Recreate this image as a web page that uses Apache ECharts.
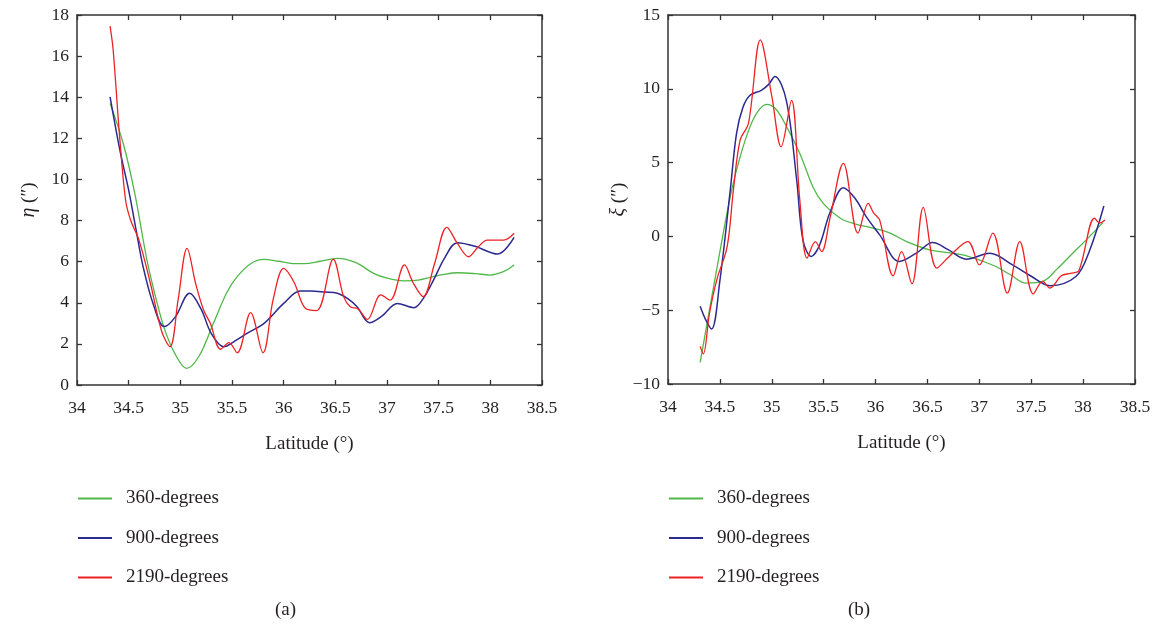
<!DOCTYPE html>
<html>
<head>
<meta charset="utf-8">
<script src="https://cdn.jsdelivr.net/npm/echarts@6/dist/echarts.min.js"></script>
<style>
html,body{margin:0;padding:0;background:#fff;}
#c{width:1157px;height:626px;}
</style>
</head>
<body>
<div id="c"></div>
<script>
// ---------- Data: panel (a) η ----------
const a360Lat = [34.32, 34.45, 34.56, 34.68, 34.78, 34.85, 34.95, 35.06, 35.18, 35.32, 35.45, 35.55, 35.68, 35.81, 35.95, 36.07, 36.2, 36.35, 36.52, 36.7, 36.87, 37.0, 37.16, 37.3, 37.42, 37.55, 37.68, 37.85, 38.0, 38.12, 38.23];
const a360Val = [13.7, 11.7, 9.3, 6.0, 3.9, 2.67, 1.5, 0.81, 1.4, 3.0, 4.5, 5.27, 5.9, 6.11, 6.02, 5.92, 5.9, 6.02, 6.16, 5.95, 5.43, 5.2, 5.07, 5.1, 5.24, 5.38, 5.46, 5.42, 5.35, 5.5, 5.84];

const a900Lat = [34.32, 34.42, 34.5, 34.57, 34.64, 34.74, 34.845, 34.95, 35.09, 35.2, 35.3, 35.42, 35.53, 35.645, 35.81, 36.0, 36.16, 36.26, 36.4, 36.52, 36.62, 36.71, 36.83, 36.95, 37.1, 37.26, 37.35, 37.45, 37.56, 37.68, 37.85, 38.07, 38.23];
const a900Val = [14.02, 11.3, 9.48, 7.6, 5.75, 3.9, 2.84, 3.3, 4.46, 3.7, 2.5, 1.86, 2.15, 2.51, 3.0, 3.97, 4.57, 4.57, 4.52, 4.46, 4.2, 3.81, 3.03, 3.35, 3.97, 3.76, 4.2, 5.1, 6.2, 6.92, 6.75, 6.37, 7.18];

const a2190Lat = [34.32, 34.35, 34.41, 34.47, 34.52, 34.6, 34.71, 34.82, 34.9, 34.98, 35.065, 35.15, 35.225, 35.29, 35.39, 35.47, 35.55, 35.68, 35.8, 35.9, 36.0, 36.1, 36.21, 36.32, 36.48, 36.58, 36.645, 36.72, 36.81, 36.94, 37.03, 37.17, 37.25, 37.35, 37.46, 37.58, 37.68, 37.79, 37.88, 37.97, 38.13, 38.23];
const a2190Val = [17.46, 16.3, 12.24, 9.0, 8.0, 7.05, 4.95, 2.6, 1.86, 4.2, 6.65, 4.9, 3.65, 3.0, 1.74, 2.06, 1.57, 3.52, 1.57, 4.2, 5.67, 5.0, 3.73, 3.62, 6.11, 4.3, 3.81, 3.7, 3.19, 4.38, 4.13, 5.84, 5.0, 4.3, 5.9, 7.67, 6.9, 6.24, 6.7, 7.05, 7.05, 7.38];

// ---------- Data: panel (b) ξ ----------
const b360Lat = [34.31, 34.45, 34.6, 34.695, 34.79, 34.87, 34.95, 35.03, 35.11, 35.27, 35.4, 35.5, 35.66, 35.8, 35.98, 36.14, 36.3, 36.52, 36.7, 36.84, 37.0, 37.16, 37.3, 37.45, 37.61, 37.75, 37.9, 38.05, 38.19];
const b360Val = [-8.53, -3.0, 2.69, 5.39, 7.42, 8.5, 8.95, 8.7, 7.87, 5.62, 3.3, 2.2, 1.23, 0.85, 0.55, 0.22, -0.35, -0.91, -1.1, -1.25, -1.6, -2.04, -2.6, -3.16, -3.05, -2.2, -1.14, -0.1, 0.93];

const b900Lat = [34.31, 34.36, 34.42, 34.5, 34.6, 34.66, 34.72, 34.79, 34.9, 34.97, 35.03, 35.14, 35.24, 35.3, 35.38, 35.46, 35.56, 35.69, 35.8, 35.91, 36.04, 36.23, 36.4, 36.55, 36.7, 36.875, 37.1, 37.32, 37.5, 37.68, 37.93, 38.06, 38.2];
const b900Val = [-4.74, -5.6, -6.27, -3.0, 3.14, 6.97, 8.7, 9.56, 9.9, 10.3, 10.84, 9.22, 3.82, -0.24, -1.36, -0.6, 1.6, 3.3, 2.6, 1.34, 0.1, -1.7, -1.1, -0.42, -0.9, -1.54, -1.14, -1.93, -2.7, -3.34, -2.72, -1.0, 2.06];

const b2190Lat = [34.31, 34.34, 34.4, 34.47, 34.57, 34.63, 34.695, 34.775, 34.89, 35.0, 35.09, 35.19, 35.27, 35.34, 35.42, 35.48, 35.56, 35.69, 35.83, 35.93, 35.98, 36.04, 36.17, 36.25, 36.35, 36.46, 36.59, 36.71, 36.89, 37.0, 37.13, 37.27, 37.39, 37.52, 37.61, 37.68, 37.79, 37.88, 37.96, 38.11, 38.16, 38.21];
const b2190Val = [-7.45, -7.96, -5.2, -2.94, -0.69, 3.14, 6.52, 7.65, 13.32, 9.5, 6.07, 9.22, 2.47, -1.47, -0.35, -1.03, 1.2, 4.95, 0.22, 2.24, 1.6, 1.1, -2.67, -1.03, -3.21, 1.97, -2.15, -1.36, -0.35, -1.93, 0.22, -3.84, -0.35, -3.89, -3.05, -3.5, -2.67, -2.5, -2.31, 1.23, 0.9, 1.11];

const seriesNames = ['360-degrees', '900-degrees', '2190-degrees'];
const colors = ['#4fb848', '#2b2a8e', '#ee2224'];

function pairs(xs, ys) { return xs.map((x, i) => [x, ys[i]]); }

const FONT = "'Liberation Serif', 'DejaVu Serif', serif";
const TXT = '#231f20';
const fmt = v => String(v).replace('-', '\u2212');

function mainXAxis(gridIndex) {
  return {
    type: 'value', gridIndex, min: 34, max: 38.5, interval: 0.5,
    name: 'Latitude (°)', nameLocation: 'middle', nameGap: 50,
    nameTextStyle: { fontFamily: FONT, fontSize: 19, color: TXT },
    axisLine: { show: true, onZero: false, lineStyle: { color: '#333', width: 1.5 } },
    axisTick: { show: true, inside: true, length: 5, lineStyle: { color: '#333', width: 1.3 } },
    axisLabel: { fontFamily: FONT, fontSize: 17.5, color: TXT, margin: 14, formatter: fmt },
    splitLine: { show: false }
  };
}
function topXAxis(gridIndex) {
  return {
    type: 'value', gridIndex, position: 'top', min: 34, max: 38.5, interval: 0.5,
    axisLine: { show: true, onZero: false, lineStyle: { color: '#333', width: 1.5 } },
    axisTick: { show: true, inside: true, length: 5, lineStyle: { color: '#333', width: 1.3 } },
    axisLabel: { show: false }, splitLine: { show: false }
  };
}
function leftYAxis(gridIndex, min, max, interval, nameRich) {
  return {
    type: 'value', gridIndex, min, max, interval,
    name: nameRich, nameLocation: 'middle', nameGap: 38, nameRotate: 90,
    nameTextStyle: { fontFamily: FONT, fontSize: 19, color: TXT,
      rich: { i: { fontFamily: FONT, fontStyle: 'italic', fontSize: 20, color: TXT } } },
    axisLine: { show: true, onZero: false, lineStyle: { color: '#333', width: 1.5 } },
    axisTick: { show: true, inside: true, length: 5, lineStyle: { color: '#333', width: 1.3 } },
    axisLabel: { fontFamily: FONT, fontSize: 17.5, color: TXT, margin: 8, formatter: fmt },
    splitLine: { show: false }
  };
}
function rightYAxis(gridIndex, min, max, interval) {
  return {
    type: 'value', gridIndex, position: 'right', min, max, interval,
    axisLine: { show: true, onZero: false, lineStyle: { color: '#333', width: 1.5 } },
    axisTick: { show: true, inside: true, length: 5, lineStyle: { color: '#333', width: 1.3 } },
    axisLabel: { show: false }, splitLine: { show: false }
  };
}

function lineSeries(name, xi, yi, data, color) {
  return {
    name, type: 'line', xAxisIndex: xi, yAxisIndex: yi, data,
    smooth: 0.35, showSymbol: false, symbol: 'none',
    lineStyle: { color, width: name === '900-degrees' ? 1.5 : 1.3 },
    itemStyle: { color },
    animation: false
  };
}

function legendAt(left) {
  return {
    orient: 'vertical', left, top: 484, itemGap: 20.5,
    itemWidth: 34, itemHeight: 2, icon: 'rect',
    textStyle: { fontFamily: FONT, fontSize: 19, color: TXT, padding: [0, 0, 0, 9] },
    data: seriesNames
  };
}

const option = {
  backgroundColor: '#fff',
  animation: false,
  grid: [
    { left: 77, top: 15, width: 465, height: 370 },
    { left: 668, top: 15, width: 467, height: 369 }
  ],
  xAxis: [mainXAxis(0), topXAxis(0), mainXAxis(1), topXAxis(1)],
  yAxis: [
    leftYAxis(0, 0, 18, 2, '{i|η} (″)'), rightYAxis(0, 0, 18, 2),
    leftYAxis(1, -10, 15, 5, '{i|ξ} (″)'), rightYAxis(1, -10, 15, 5)
  ],
  legend: [legendAt(73), legendAt(664)],
  graphic: [
    { type: 'text', left: 275, top: 601, style: { text: '(a)', fontFamily: FONT, fontSize: 19, fill: TXT } },
    { type: 'text', left: 848, top: 601, style: { text: '(b)', fontFamily: FONT, fontSize: 19, fill: TXT } }
  ],
  series: [
    lineSeries(seriesNames[0], 0, 0, pairs(a360Lat, a360Val), colors[0]),
    lineSeries(seriesNames[1], 0, 0, pairs(a900Lat, a900Val), colors[1]),
    lineSeries(seriesNames[2], 0, 0, pairs(a2190Lat, a2190Val), colors[2]),
    lineSeries(seriesNames[0], 2, 2, pairs(b360Lat, b360Val), colors[0]),
    lineSeries(seriesNames[1], 2, 2, pairs(b900Lat, b900Val), colors[1]),
    lineSeries(seriesNames[2], 2, 2, pairs(b2190Lat, b2190Val), colors[2])
  ]
};

const chart = echarts.init(document.getElementById('c'), null, { renderer: 'canvas' });
chart.setOption(option);
</script>
</body>
</html>
